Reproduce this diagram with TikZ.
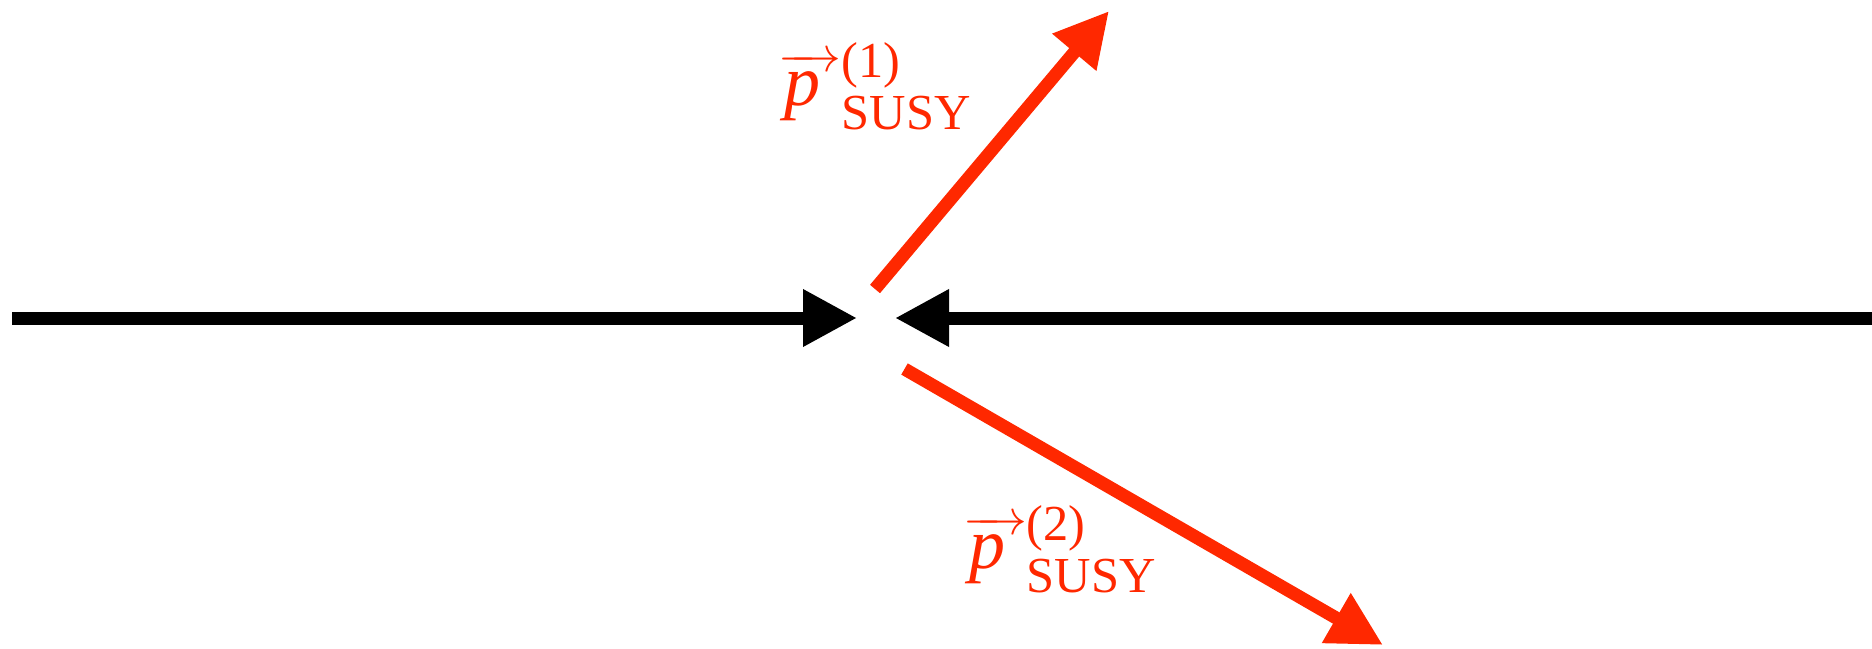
\documentclass[tikz,border=0pt]{standalone}
\usepackage{amsmath}
\usepackage{fontspec}
\setmainfont{Liberation Serif}
\usetikzlibrary{arrows.meta}
\definecolor{susyred}{RGB}{255,40,0}
\newcommand{\pvec}{\overrightarrow{\kern0.08em\textit{p}\kern0.3em}}

\begin{document}
\begin{tikzpicture}[x=0.5pt,y=-0.5pt,
 every node/.style={font=\fontsize{36}{43}\selectfont},
 beam/.style={line width=6.5pt,-{Triangle[length=27pt,width=27pt]}},
 susy/.style={beam,draw=susyred,fill=susyred},
 lab/.style={text=susyred,inner sep=0pt,anchor=north west}]
\useasboundingbox (0,0) rectangle (1872,648);
% incoming beams
\coordinate (beamL) at (12,318);
\coordinate (beamR) at (1872,318);
\coordinate (hitL) at (857,318);
\coordinate (hitR) at (895,318);
\draw[beam] (beamL)--(hitL);
\draw[beam] (beamR)--(hitR);
% outgoing sparticles
\coordinate (out1) at (875,289);
\coordinate (tip1) at (1109,11);
\coordinate (out2) at (904.5,369);
\coordinate (tip2) at (1383,645);
\draw[susy] (out1)--(tip1);
\draw[susy] (out2)--(tip2);
\node[lab] (p1) at (778,42) {$\pvec^{\text{(1)}}_{\text{SUSY}}$};
\node[lab] (p2) at (963,505) {$\pvec^{\text{(2)}}_{\text{SUSY}}$};
\end{tikzpicture}
\end{document}
